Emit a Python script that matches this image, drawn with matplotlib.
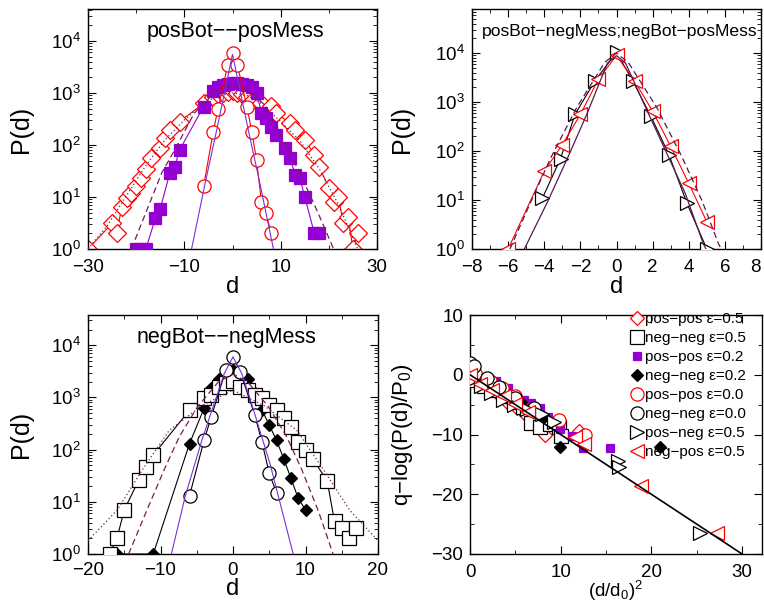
import matplotlib
matplotlib.use('Agg')
import matplotlib.pyplot as plt
from matplotlib.ticker import MultipleLocator

plt.rcParams['font.family'] = ['Liberation Sans', 'DejaVu Sans']
plt.rcParams['mathtext.fontset'] = 'custom'
plt.rcParams['mathtext.rm'] = 'Liberation Sans'
plt.rcParams['mathtext.it'] = 'Liberation Sans:italic'

RED = '#ff0000'
VIOLET = '#9400d3'
THIN = '#7b2fd6'
MAROON = '#781c5a'
DARKPURPLE = '#551a55'

# ---- panel 1: posBot--posMess ----
pp05_d = [-30, -25, -24, -23, -22, -21, -20, -19, -18, -17, -15, -14, -13, -11, -6, -4, -3, -2, -1, 0,
          1, 2, 3, 4, 6, 8, 9, 12, 13, 15, 17, 18, 20, 21, 22, 23, 24, 25, 26]
pp05_p = [1.0, 3.1, 2.0, 6.5, 9.4, 12, 16, 23, 35, 55, 86, 134, 195, 280, 630, 850, 950, 1000, 1050, 1100,
          1000, 950, 850, 700, 630, 550, 410, 260, 195, 126, 65, 38, 15, 8, 10, 3.1, 4.2, 1.0, 2.0]
pp02_d = [-20, -19, -18, -16, -15, -13, -12, -11, -6, -4, -3, -2, -1, 0, 1, 2, 3, 4, 5, 6, 7, 8, 9,
          11, 12, 13, 14, 15, 17, 18]
pp02_p = [1, 1, 1, 3.9, 6, 29, 38, 80, 545, 1070, 1300, 1450, 1500, 1550, 1550, 1500, 1450, 1300, 1000,
          420, 325, 225, 155, 87, 55, 27, 23, 10, 2, 2]
pp00_d = [-6, -4, -3, -1, 0, 1, 3, 4, 5, 6, 7, 8]
pp00_p = [16, 180, 500, 3400, 5900, 3450, 545, 180, 51, 8.1, 4.9, 2]

fit1_dot_d = [-30, -26, -22, -18, -14, -10, -6, -3, 0, 3, 6, 10, 14, 18, 22, 26]
fit1_dot_p = [1.0, 2.8, 10.7, 40, 126, 300, 630, 890, 1000, 890, 630, 280, 120, 35, 7.1, 1.0]
fit1_dash_d = [-21, -17.5, -14.7, -12, -8, -4, -2, 0, 2, 4, 7, 10.5, 14.3, 17.5, 21]
fit1_dash_p = [1, 6.5, 29, 80, 400, 1000, 1300, 1400, 1300, 1000, 550, 126, 25, 5.6, 1]
fit1_thin_d = [-8.5, -5.7, -3.3, -1, 0, 1, 3.3, 5.7, 8.5]
fit1_thin_p = [1, 18, 190, 2000, 5500, 2000, 190, 18, 1]

# ---- panel 2: posBot-negMess ; negBot-posMess ----
pn05_d = [-4.1, -3.1, -2.3, -1.2, 0, 0.9, 1.9, 2.9, 3.9, 5.0]
pn05_p = [11, 70, 560, 2700, 10500, 2700, 520, 85, 8.6, 1]
np05_d = [-6, -4, -3, -2, -1, 0, 1, 2, 3, 4, 5]
np05_p = [1, 39, 135, 560, 2950, 9000, 2700, 655, 125, 22, 3.6]

fit2_solid_d = [-5.1, -3.8, -2.6, -1.65, -0.5, 0, 0.5, 1.58, 2.69, 3.8, 4.8, 4.95]
fit2_solid_p = [1, 9.5, 89, 560, 6300, 8900, 6300, 830, 107, 13.8, 1.3, 1]
fit2_dash_d = [-5.9, -4.7, -3.6, -2.2, -0.65, 0, 0.65, 2.23, 3.61, 4.72, 5.64, 5.8]
fit2_dash_p = [1, 10, 78, 780, 6500, 10000, 6500, 780, 78, 10, 1.3, 1]
p2_xticks = [-8, -6, -4, -2, 0, 2, 4, 6, 8]

# ---- panel 3: negBot--negMess ----
nn05_d = [-17, -16, -15, -13, -12, -11, -6, -4, -3, -2, -1, 0, 1, 2, 3, 4, 5, 6, 7, 8, 9, 10, 11,
          13, 14, 15, 16, 17]
nn05_p = [1, 2, 7, 26, 47, 79, 570, 960, 1100, 1580, 1850, 2100, 1600, 1380, 1100, 960, 710, 570, 400,
          275, 140, 98, 67, 25, 4.2, 3.1, 2, 3.1]
nn02_d = [-16, -11, -6, -4, -3, -2, -1, 0, 1, 2, 3, 4, 5, 6, 7, 8, 9, 10]
nn02_p = [1, 1, 130, 615, 1500, 2300, 3000, 3300, 3000, 2300, 1200, 570, 295, 151, 67, 28, 11.6, 7]
nn00_d = [-6, -4, -3, -1, 0, 1, 3, 4, 5, 6]
nn00_p = [13, 150, 425, 3300, 6000, 3100, 460, 140, 35, 15]

fit3_thin_d = [-8.5, -6.6, -4.3, -1.2, 0, 1.2, 2.3, 5.1, 8.3]
fit3_thin_p = [1, 12.6, 151, 2880, 6000, 2880, 1000, 54, 1]
fit3_dash_d = [-14.4, -12, -9.5, -7.4, -4.9, -2, 0, 2, 4.9, 7.4, 9.5, 11.8, 13.8]
fit3_dash_p = [1, 6.3, 41, 178, 660, 2000, 2800, 2000, 660, 178, 41, 6.5, 1]
fit3_dot_d = [-20, -16, -12.5, -8.8, -4.2, 0, 4.2, 8.8, 12.5, 16.1, 20]
fit3_dot_p = [1.8, 6.9, 41, 234, 710, 1380, 710, 234, 41, 6.9, 1.8]

# ---- panel 4: collapse ----
c_pp05_x = [0.0, 1.0, 2.0, 3.1, 4.1, 5.2, 6.2, 7.2, 8.3, 12.0, 12.5]
c_pp05_y = [0.0, -1.2, -2.3, -3.3, -4.5, -5.6, -6.7, -7.3, -10.0, -9.4, -10.4]
c_nn05_x = [0.3, 1.5, 2.5, 3.7, 4.8, 5.8, 6.7, 7.7, 8.8, 9.8, 10.0]
c_nn05_y = [-0.8, -1.8, -2.6, -3.6, -4.6, -5.4, -8.1, -8.8, -8.3, -8.7, -10.3]
c_pp02_x = [2.9, 4.2, 5.0, 5.9, 6.7, 7.7, 8.6, 9.9, 11.2, 12.5, 15.4]
c_pp02_y = [-1.0, -2.3, -3.4, -4.3, -4.8, -5.6, -7.0, -9.0, -10.3, -12.2, -12.2]
c_nn02_x = [2.5, 4.0, 5.6, 6.9, 8.2, 9.9, 20.9]
c_nn02_y = [-1.5, -2.8, -4.5, -5.9, -7.1, -12.1, -12.1]
c_pp00_x = [0.6, 2.2, 3.5, 5.0, 7.0, 9.8, 12.7]
c_pp00_y = [0.3, -1.0, -2.3, -3.6, -5.5, -7.6, -10.1]
c_nn00_x = [0.0, 0.4, 1.9, 3.2, 5.0, 7.1]
c_nn00_y = [2.0, 1.4, -0.5, -2.0, -3.9, -5.5]
c_pn05_x = [0.2, 1.2, 2.3, 3.6, 4.9, 6.3, 7.9, 9.3, 16.3, 16.4, 25.4]
c_pn05_y = [-0.9, -1.8, -3.0, -4.2, -5.0, -5.8, -6.6, -7.9, -14.5, -15.4, -26.5]
c_np05_x = [0.0, 1.1, 2.4, 3.7, 5.0, 6.4, 11.6, 12.6, 18.9, 27.2]
c_np05_y = [0.0, -1.5, -2.6, -3.6, -4.9, -6.3, -10.4, -11.6, -18.7, -26.5]
collapse_line_x = [0, 30]
collapse_line_y = [0, -30]

legend_labels = ['pos\u2212pos \u03b5=0.5', 'neg\u2212neg \u03b5=0.5', 'pos\u2212pos \u03b5=0.2',
                 'neg\u2212neg \u03b5=0.2', 'pos\u2212pos \u03b5=0.0', 'neg\u2212neg \u03b5=0.0',
                 'pos\u2212neg \u03b5=0.5', 'neg\u2212pos \u03b5=0.5']


def style_axes(ax, xpad=7):
    ax.tick_params(which='both', direction='in', top=True, right=True, labelsize=13.5)
    ax.tick_params(which='major', length=6, width=0.8)
    ax.tick_params(axis='x', which='major', pad=xpad)
    ax.tick_params(axis='y', which='major', pad=5)
    ax.tick_params(which='minor', length=3, width=0.6)
    for s in ax.spines.values():
        s.set_linewidth(1.0)


def series(ax, d, p, marker, color, ms, filled=False, z=3, lw=0.8):
    ax.plot(d, p, color=color, lw=lw, marker=marker, ms=ms,
            mfc=color if filled else 'white', mec=color, mew=0.9, zorder=z)


def fit(ax, d, p, color, ls, lw=0.9):
    ax.plot(d, p, color=color, ls=ls, lw=lw, zorder=6)


def log_panel(ax, xlim, ylim, major, minor, labels_at=None, xpad=7):
    ax.set_yscale('log')
    ax.set_xlim(*xlim)
    ax.set_ylim(*ylim)
    if labels_at is not None:
        ax.set_xticks(labels_at)
    else:
        ax.xaxis.set_major_locator(MultipleLocator(major))
    ax.xaxis.set_minor_locator(MultipleLocator(minor))
    ax.set_ylabel('P(d)', fontsize=18)
    ax.set_xlabel('d', fontsize=17)
    style_axes(ax, xpad)


fig = plt.figure(figsize=(7.64, 6.13), dpi=100)
W, H = 764.0, 613.0
ax1 = fig.add_axes([88 / W, 1 - 249 / H, 289 / W, 240 / H])
ax2 = fig.add_axes([472 / W, 1 - 249 / H, 289 / W, 240 / H])
ax3 = fig.add_axes([88 / W, 1 - 554 / H, 290 / W, 239 / H])
ax4 = fig.add_axes([470 / W, 1 - 554 / H, 292 / W, 239 / H])

# panel 1
series(ax1, pp05_d, pp05_p, 'D', RED, 9, z=2)
series(ax1, pp02_d, pp02_p, 's', VIOLET, 8.5, filled=True, z=3)
series(ax1, pp00_d, pp00_p, 'o', RED, 9.5, z=4)
fit(ax1, fit1_dot_d, fit1_dot_p, MAROON, (0, (1, 2)))
fit(ax1, fit1_dash_d, fit1_dash_p, MAROON, (0, (5, 3)))
fit(ax1, fit1_thin_d, fit1_thin_p, THIN, '-', lw=0.8)
log_panel(ax1, (-30, 30), (1, 4.1e4), 20, 10, labels_at=[-30, -10, 10, 30])
ax1.text(0.51, 0.905, 'posBot\u2212\u2212posMess', transform=ax1.transAxes,
         ha='center', va='center', fontsize=15.5)

# panel 2
series(ax2, pn05_d, pn05_p, '>', 'black', 10, z=3)
series(ax2, np05_d, np05_p, '<', RED, 10, z=4)
fit(ax2, fit2_dash_d, fit2_dash_p, DARKPURPLE, (0, (5, 3)))
fit(ax2, fit2_solid_d, fit2_solid_p, DARKPURPLE, '-')
log_panel(ax2, (-8, 8), (1, 8e4), 2, 1, labels_at=p2_xticks)
ax2.set_xticklabels(['\u22128', '\u22126', '\u22124', '\u22122', '0', '2', '4', '6', '8'])
ax2.xaxis.get_major_ticks()[-1].label1.set_horizontalalignment('right')
ax2.text(0.512, 0.905, 'posBot\u2212negMess;negBot\u2212posMess', transform=ax2.transAxes,
         ha='center', va='center', fontsize=12.6)

# panel 3
series(ax3, nn02_d, nn02_p, 'D', 'black', 6.5, filled=True, z=2)
series(ax3, nn05_d, nn05_p, 's', 'black', 10.5, z=3)
series(ax3, nn00_d, nn00_p, 'o', 'black', 9.5, z=4)
fit(ax3, fit3_dot_d, fit3_dot_p, MAROON, (0, (1, 2)))
fit(ax3, fit3_dash_d, fit3_dash_p, MAROON, (0, (5, 3)))
fit(ax3, fit3_thin_d, fit3_thin_p, THIN, '-', lw=0.8)
log_panel(ax3, (-20, 20), (1, 3.8e4), 10, 5, xpad=6)
ax3.text(0.476, 0.905, 'negBot\u2212\u2212negMess', transform=ax3.transAxes,
         ha='center', va='center', fontsize=15.5)

for ax in (ax1, ax3):
    ax.yaxis.set_label_coords(-0.19, 0.5)
ax2.yaxis.set_label_coords(-0.20, 0.5)
for ax in (ax1, ax2):
    ax.xaxis.set_label_coords(0.5, -0.112)
ax3.xaxis.set_label_coords(0.5, -0.1)

# panel 4
collapse = [
    (c_pp05_x, c_pp05_y, 'D', RED, 7.6, False),
    (c_nn05_x, c_nn05_y, 's', 'black', 9.5, False),
    (c_pp02_x, c_pp02_y, 's', VIOLET, 6, True),
    (c_nn02_x, c_nn02_y, 'D', 'black', 6, True),
    (c_pp00_x, c_pp00_y, 'o', RED, 9.5, False),
    (c_nn00_x, c_nn00_y, 'o', 'black', 9.5, False),
    (c_pn05_x, c_pn05_y, '>', 'black', 10, False),
    (c_np05_x, c_np05_y, '<', RED, 10, False),
]
handles = []
for (x, y, m, c, ms, filled), lab in zip(collapse, legend_labels):
    h, = ax4.plot(x, y, ls='none', marker=m, ms=ms, mfc=c if filled else 'white',
                  mec=c, mew=0.9, label=lab, zorder=3)
    handles.append(h)
ax4.plot(collapse_line_x, collapse_line_y, color='black', lw=1.2, zorder=5)
ax4.set_xlim(0, 32.2)
ax4.set_ylim(-30, 10)
ax4.xaxis.set_major_locator(MultipleLocator(10))
ax4.xaxis.set_minor_locator(MultipleLocator(5))
ax4.yaxis.set_major_locator(MultipleLocator(10))
ax4.yaxis.set_minor_locator(MultipleLocator(5))
style_axes(ax4)
ax4.set_xlabel('(d/d$_0$)$^2$', fontsize=13.5)
ax4.set_ylabel('q\u2212log(P(d)/P$_0$)', fontsize=16)
ax4.xaxis.set_label_coords(0.5, -0.105)
ax4.yaxis.set_label_coords(-0.19, 0.5)
ax4.legend(handles=handles, loc='upper left', bbox_to_anchor=(0.556, 1.012), frameon=False,
           fontsize=11, handlelength=0.6, handletextpad=0.2, labelspacing=0.33,
           borderpad=0.0, borderaxespad=0.0)

fig.savefig('out.png', dpi=100)
